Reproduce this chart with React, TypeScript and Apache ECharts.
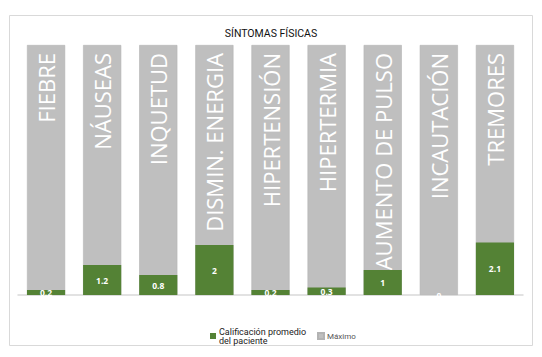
import React, { useEffect, useRef } from "react";
import * as echarts from "echarts";

const categories = [
  "FIEBRE",
  "NÁUSEAS",
  "INQUETUD",
  "DISMIN. ENERGIA",
  "HIPERTENSIÓN",
  "HIPERTERMIA",
  "AUMENTO DE PULSO",
  "INCAUTACIÓN",
  "TREMORES",
];
const patientScores = [0.2, 1.2, 0.8, 2, 0.2, 0.3, 1, 0, 2.1];
const maximumValues = [10, 10, 10, 10, 10, 10, 10, 10, 10];
const seriesNames = ["Calificación promedio\ndel paciente", "Máximo"];
const titleText = "SÍNTOMAS FÍSICAS";

export default function App() {
  const ref = useRef<HTMLDivElement>(null);
  useEffect(() => {
    if (!ref.current) return;
    const chart = echarts.init(ref.current, null, { renderer: "svg" });
    chart.setOption({
      animation: false,
      backgroundColor: "#ffffff",
      title: {
        text: titleText,
        left: "center",
        top: 23,
        textStyle: {
          fontFamily: "Roboto",
          fontSize: 10.5,
          fontWeight: "normal",
          color: "#111111",
        },
      },
      graphic: [
        {
          type: "rect",
          shape: { x: 9.5, y: 15.5, width: 523, height: 330 },
          style: { fill: "none", stroke: "#D9D9D9", lineWidth: 1 },
          silent: true,
        },
      ],
      legend: [
        {
          data: [seriesNames[0]],
          left: 205,
          top: 322,
          itemWidth: 6,
          itemHeight: 6,
          icon: "rect",
          textStyle: {
            fontFamily: "Roboto",
            fontSize: 9,
            lineHeight: 9,
            color: "#222222",
            padding: [0, 0, 0, -2],
          },
        },
        {
          data: [seriesNames[1]],
          left: 312,
          top: 327,
          itemWidth: 6,
          itemHeight: 6,
          icon: "rect",
          textStyle: {
            fontFamily: "Roboto",
            fontSize: 8,
            color: "#555555",
            padding: [0, 0, 0, -2],
          },
        },
      ],
      grid: { left: 18, right: 19, top: 45, bottom: 62, containLabel: false },
      xAxis: {
        type: "category",
        data: categories,
        axisLine: { lineStyle: { color: "#D9D9D9", width: 1.5 } },
        axisTick: { show: false },
        axisLabel: { show: false },
      },
      yAxis: {
        type: "value",
        min: 0,
        max: 10,
        show: false,
        splitLine: { show: false },
      },
      series: [
        {
          name: seriesNames[1],
          type: "bar",
          data: maximumValues,
          barWidth: "68%",
          barGap: "-100%",
          itemStyle: { color: "#BFBFBF", borderColor: "#B3B3B3", borderWidth: 0.6 },
          label: {
            show: true,
            position: "insideTop",
            rotate: 90,
            align: "right",
            verticalAlign: "middle",
            distance: 8,
            formatter: (p: any) => categories[p.dataIndex],
            fontFamily: "Open Sans",
            fontSize: 22,
            color: "#ffffff",
          },
          z: 1,
        },
        {
          name: seriesNames[0],
          type: "bar",
          data: patientScores,
          barWidth: "68%",
          itemStyle: { color: "#548235" },
          label: {
            show: true,
            position: "inside",
            fontFamily: "Open Sans",
            fontWeight: "bold",
            fontSize: 8.5,
            color: "#ffffff",
          },
          z: 2,
        },
      ],
    });
    return () => chart.dispose();
  }, []);
  return (
    <div
      ref={ref}
      style={{ position: "fixed", left: 0, top: 0, width: 542, height: 357 }}
    />
  );
}
